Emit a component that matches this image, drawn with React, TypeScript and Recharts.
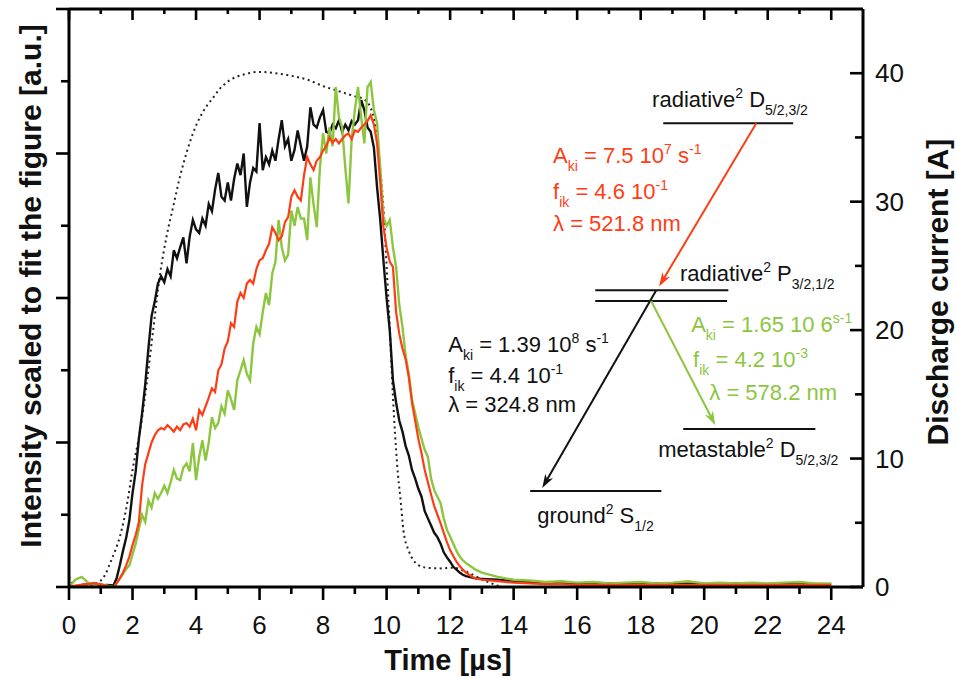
import React from "react";
import { LineChart, Line, XAxis, YAxis, ReferenceLine, ReferenceDot, Customized } from "recharts";

const FONT = '"Liberation Sans", Arial, Helvetica, sans-serif';
const INK = "#111111";
const RED = "#ff3d14";
const GREEN = "#8cc63f";

// time axis of the three emission traces [µs]
const timeUs = [
  0, 0.2, 0.4, 0.6, 0.8, 1, 1.2, 1.4,
  1.5, 1.6, 1.7, 1.8, 1.9,
  2, 2.1, 2.2, 2.3, 2.4, 2.5, 2.6, 2.7, 2.8, 2.9,
  3, 3.1, 3.2, 3.3, 3.4, 3.5, 3.6, 3.7, 3.8, 3.9,
  4, 4.1, 4.2, 4.3, 4.4, 4.5, 4.6, 4.7, 4.8, 4.9,
  5, 5.1, 5.2, 5.3, 5.4, 5.5, 5.6, 5.7, 5.8, 5.9,
  6, 6.1, 6.2, 6.3, 6.4, 6.5, 6.6, 6.7, 6.8, 6.9,
  7, 7.1, 7.2, 7.3, 7.4, 7.5, 7.6, 7.7, 7.8, 7.9,
  8, 8.1, 8.2, 8.3, 8.4, 8.5, 8.6, 8.7, 8.8, 8.9,
  9, 9.1, 9.2, 9.3, 9.4, 9.5, 9.6, 9.7, 9.8, 9.9,
  10, 10.1, 10.2, 10.3, 10.4, 10.5, 10.6, 10.7, 10.8, 10.9,
  11, 11.1, 11.2, 11.3, 11.4, 11.5, 11.6, 11.7, 11.8, 11.9,
  12, 12.1, 12.2, 12.3, 12.4, 12.5, 12.6, 12.7, 12.8, 12.9,
  13,
  13.5, 14, 14.5, 15, 15.5, 16, 16.5, 17, 17.5, 18, 18.5,
  19, 19.5, 20, 20.5, 21, 21.5, 22, 22.5, 23, 23.5, 24,
];

// 324.8 nm (black)
const blackLine = [
  0.02, 0.0, 0.03, 0.04, 0.05, 0.02, 0.03, 0.02,
  0.12, 0.3, 0.5, 0.68, 0.92,
  1.3, 1.6, 2.05, 2.4, 2.8, 3.3, 3.75, 3.95, 4.2, 4.3,
  4.22, 4.4, 4.3, 4.66, 4.55, 4.7, 4.84, 4.48, 4.85, 5.08,
  4.95, 4.9, 5.1, 5.0, 5.3, 5.2, 5.5, 5.73, 5.4, 5.35,
  5.6, 5.35, 5.65, 5.86, 5.7, 6.0, 5.26, 5.6, 5.8, 5.75,
  6.42, 5.77, 5.95, 5.85, 6.04, 5.9, 6.2, 6.46, 6.1, 6.2,
  5.9, 6.05, 6.32, 6.1, 5.9, 6.1, 6.64, 6.4, 6.36, 6.5,
  6.6, 6.3, 6.28, 6.4, 6.35, 6.46, 6.3, 6.4, 6.32, 6.45,
  6.4, 6.46, 6.74, 6.6, 6.36, 6.3, 6.08, 5.53, 5.08, 4.52,
  4.0, 3.55, 2.86, 2.55, 2.3, 2.15, 1.95, 1.82, 1.62, 1.5,
  1.36, 1.25, 1.05, 0.95, 0.85, 0.75, 0.69, 0.6, 0.48, 0.41,
  0.35, 0.28, 0.24, 0.2, 0.17, 0.15, 0.14, 0.13, 0.12, 0.12,
  0.11,
  0.1, 0.08, 0.07, 0.06, 0.06, 0.05, 0.06, 0.05, 0.05, 0.04, 0.05,
  0.04, 0.05, 0.04, 0.04, 0.05, 0.04, 0.04, 0.05, 0.04, 0.04, 0.04,
];

// 521.8 nm (red)
const redLine = [
  0.0, 0.02, 0.03, 0.04, 0.05, 0.04, 0.01, 0.0,
  0.05, 0.12, 0.2, 0.3, 0.42,
  0.58, 0.72, 0.9, 1.4, 1.7, 1.85, 2.0, 2.1, 2.17, 2.2,
  2.18, 2.24, 2.2, 2.15, 2.22, 2.17, 2.25, 2.27, 2.22, 2.33,
  2.17, 2.45, 2.38, 2.5, 2.62, 2.75, 2.7, 3.0, 3.08, 3.3,
  3.4, 3.65, 3.6, 3.95, 4.07, 4.0, 4.2, 4.25, 4.2, 4.4,
  4.52, 4.55, 4.66, 4.75, 4.98, 4.9, 4.8, 4.85, 5.05, 5.12,
  5.4, 5.49, 5.4, 5.35, 5.7, 5.95, 5.85, 5.77, 5.9, 5.95,
  6.04, 6.1, 6.22, 6.15, 6.2, 6.14, 6.2, 6.25, 6.28, 6.2,
  6.32, 6.3, 6.36, 6.4, 6.45, 6.53, 6.4, 6.14, 5.6, 4.98,
  4.7, 4.5, 4.43, 3.8, 3.5, 3.3, 3.15, 2.9, 2.55, 2.3,
  2.05, 1.85, 1.62, 1.45, 1.28, 1.12, 1.0, 0.88, 0.75, 0.62,
  0.51, 0.43, 0.35, 0.29, 0.24, 0.2, 0.17, 0.14, 0.12, 0.11,
  0.1,
  0.08, 0.06, 0.05, 0.04, 0.04, 0.03, 0.03, 0.03, 0.03, 0.03, 0.03,
  0.03, 0.03, 0.03, 0.03, 0.03, 0.03, 0.03, 0.03, 0.03, 0.03, 0.03,
];

// 578.2 nm (green)
const greenLine = [
  0.0, 0.1, 0.14, 0.06, 0.03, 0.04, 0.02, 0.0,
  0.05, 0.12, 0.18, 0.25, 0.3,
  0.45, 0.6, 0.8, 1.0, 0.9, 1.2, 1.1, 1.3, 1.22, 1.3,
  1.4, 1.3, 1.45, 1.62, 1.5, 1.48, 1.65, 1.71, 1.6, 1.99,
  1.48, 1.8, 2.03, 1.75, 2.0, 2.35, 2.2, 2.27, 2.5, 2.4,
  2.72, 2.6, 2.45, 2.86, 3.0, 3.14, 2.95, 2.86, 3.37, 3.6,
  3.5, 3.8, 4.07, 3.9, 4.34, 4.5, 5.08, 4.7, 4.52, 4.6,
  5.21, 5.0, 5.26, 5.1, 5.1, 4.8, 5.67, 5.3, 4.98, 5.8,
  6.28, 6.0, 6.36, 6.1, 6.92, 6.5, 6.36, 5.8, 5.31, 6.2,
  6.6, 6.92, 6.5, 6.14, 6.92, 6.99, 6.6, 6.42, 5.8, 5.12,
  5.0, 5.08, 4.7, 4.43, 3.9, 3.6, 3.2, 2.95, 2.6, 2.4,
  2.21, 2.05, 1.9, 1.8, 1.5, 1.34, 1.25, 1.16, 0.95, 0.79,
  0.7, 0.6, 0.5, 0.42, 0.37, 0.33, 0.3, 0.27, 0.24, 0.22,
  0.2,
  0.14, 0.1, 0.09, 0.07, 0.08, 0.06, 0.07, 0.05, 0.06, 0.07, 0.05,
  0.06, 0.08, 0.05, 0.06, 0.05, 0.06, 0.05, 0.06, 0.07, 0.05, 0.05,
];

// discharge current (dotted) [A]
const currentTime = [
  0, 0.1, 0.2, 0.5, 0.8, 1, 1.15, 1.3, 1.45, 1.6, 1.83, 2, 2.24, 2.45, 2.65, 2.87,
  3.08, 3.28, 3.5, 3.7, 3.9, 4.13, 4.35, 4.54, 4.75, 4.97, 5.5, 6, 6.5, 7, 7.5, 8,
  8.5, 9, 9.27, 9.48, 9.6, 9.7, 9.8, 9.9, 10, 10.1, 10.2, 10.33, 10.45, 10.53, 10.7,
  10.84, 11, 11.27, 11.7, 12.1, 12.5, 13, 13.5, 14, 15, 16, 17, 18, 19, 20, 21, 22, 23, 24,
];
const currentA = [
  0.8, 0.3, 0, 0, 0.2, 0.5, 1.0, 1.9, 2.8, 3.9, 6.5, 9.1, 12.2, 15.9, 20, 24.4,
  27.4, 29.6, 32, 33.8, 35.3, 36.6, 37.5, 38.1, 38.8, 39.3, 39.9, 40.1, 40.0, 39.8, 39.5, 39.0,
  38.6, 38.2, 38.0, 37.4, 36.5, 35.0, 32.5, 29.6, 25, 20.2, 14.8, 9.6, 6.5, 4.4, 2.8,
  2.1, 1.7, 1.5, 1.45, 1.5, 1.2, 0.6, 0.1, -0.2, -0.35, -0.45, -0.4, -0.45, -0.4, -0.45, -0.4, -0.45, -0.4, -0.45,
];

const xTicks = [0, 1, 2, 3, 4, 5, 6, 7, 8, 9, 10, 11, 12, 13, 14, 15, 16, 17, 18, 19, 20, 21, 22, 23, 24];
const leftTicks = [0, 1, 2, 3, 4, 5, 6, 7, 8];
const rightTicks = [0, 5, 10, 15, 20, 25, 30, 35, 40];

// term diagram, placed in (time, current) coordinates
const levels = [
  { x1: 18.71, x2: 22.8, y: 36.1 },
  { x1: 16.57, x2: 20.76, y: 23.1 },
  { x1: 16.57, x2: 20.72, y: 22.26 },
  { x1: 19.34, x2: 23.5, y: 12.3 },
  { x1: 14.52, x2: 18.65, y: 7.47 },
];
const transitions = [
  { x1: 21.64, y1: 36.1, x2: 18.58, y2: 23.4, color: RED },
  { x1: 18.49, y1: 23.1, x2: 14.9, y2: 7.7, color: INK },
  { x1: 18.33, y1: 22.26, x2: 20.35, y2: 12.6, color: GREEN },
];

// text pieces: [text, shift] where shift is "" (normal), "^" (superscript) or "_" (subscript)
type Piece = [string, "" | "^" | "_"];
const annotations: { x: number; y: number; color: string; parts: Piece[] }[] = [
  { x: 18.36, y: 37.35, color: INK, parts: [["radiative", ""], ["2", "^"], [" D", ""], ["5/2,3/2", "_"]] },
  { x: 19.24, y: 23.8, color: INK, parts: [["radiative", ""], ["2", "^"], [" P", ""], ["3/2,1/2", "_"]] },
  { x: 18.55, y: 10.1, color: INK, parts: [["metastable", ""], ["2", "^"], [" D", ""], ["5/2,3/2", "_"]] },
  { x: 14.74, y: 4.98, color: INK, parts: [["ground", ""], ["2", "^"], [" S", ""], ["1/2", "_"]] },
  { x: 15.24, y: 33.0, color: RED, parts: [["A", ""], ["ki", "_"], [" = 7.5 10", ""], ["7", "^"], [" s", ""], ["-1", "^"]] },
  { x: 15.24, y: 30.2, color: RED, parts: [["f", ""], ["ik", "_"], [" = 4.6 10", ""], ["-1", "^"]] },
  { x: 15.24, y: 27.7, color: RED, parts: [["λ = 521.8 nm", ""]] },
  { x: 11.94, y: 18.3, color: INK, parts: [["A", ""], ["ki", "_"], [" = 1.39 10", ""], ["8", "^"], [" s", ""], ["-1", "^"]] },
  { x: 11.94, y: 15.9, color: INK, parts: [["f", ""], ["ik", "_"], [" = 4.4 10", ""], ["-1", "^"]] },
  { x: 11.94, y: 13.6, color: INK, parts: [["λ = 324.8 nm", ""]] },
  { x: 19.59, y: 19.84, color: GREEN, parts: [["A", ""], ["ki", "_"], [" = 1.65 10 6", ""], ["s-1", "^"]] },
  { x: 19.65, y: 17.12, color: GREEN, parts: [["f", ""], ["ik", "_"], [" = 4.2 10", ""], ["-3", "^"]] },
  { x: 20.16, y: 14.55, color: GREEN, parts: [["λ = 578.2 nm", ""]] },
];

const rows = timeUs.map((t, i) => ({ t, black: blackLine[i], red: redLine[i], green: greenLine[i] }));
const currentRows = currentTime.map((t, i) => ({ t, current: currentA[i] }));

function richText(parts: Piece[]) {
  let level = 0;
  return parts.map(([txt, kind], i) => {
    const target = kind === "^" ? -9 : kind === "_" ? 8 : 0;
    const dy = target - level;
    level = target;
    return (
      <tspan key={i} dy={dy} fontSize={kind ? 14 : 22}>
        {txt}
      </tspan>
    );
  });
}

const tickText = { fontFamily: FONT, fontSize: 26, fill: "#111" };

function BottomTick({ x, y, payload }: any) {
  const major = payload.value % 2 === 0;
  return (
    <g>
      <line x1={x} y1={y} x2={x} y2={y + (major ? 13 : 7)} stroke="#000" strokeWidth={2.6} />
      {major && <text x={x} y={y + 47} textAnchor="middle" {...tickText}>{payload.value}</text>}
    </g>
  );
}

function TopTick({ x, y, payload }: any) {
  const major = payload.value % 2 === 0;
  return <line x1={x} y1={y} x2={x} y2={y + (major ? 11 : 5)} stroke="#000" strokeWidth={2.6} />;
}

function LeftTick({ x, y, payload }: any) {
  const major = payload.value % 2 === 0;
  return <line x1={x} y1={y} x2={x - (major ? 13 : 8)} y2={y} stroke="#000" strokeWidth={2.6} />;
}

function RightTick({ x, y, payload }: any) {
  const major = payload.value % 10 === 0;
  return (
    <g>
      <line x1={x} y1={y} x2={x - (major ? 13 : 8)} y2={y} stroke="#000" strokeWidth={2.6} />
      {major && <text x={x + 12} y={y + 9} {...tickText}>{payload.value}</text>}
    </g>
  );
}

function arrowShape(color: string) {
  return (p: any) => {
    const { x1, y1, x2, y2 } = p;
    const a = Math.atan2(y2 - y1, x2 - x1);
    const c = Math.cos(a), s = Math.sin(a);
    const L = 14, W = 4.5;
    const bx = x2 - L * c, by = y2 - L * s;
    const nx = x2 - L * 0.7 * c, ny = y2 - L * 0.7 * s;
    const pts = `${x2},${y2} ${bx + W * s},${by - W * c} ${nx},${ny} ${bx - W * s},${by + W * c}`;
    return (
      <g>
        <line x1={x1} y1={y1} x2={nx} y2={ny} stroke={color} strokeWidth={2} />
        <polygon points={pts} fill={color} />
      </g>
    );
  };
}

function Titles() {
  const title = { fontFamily: FONT, fontWeight: 700, fill: "#111" };
  return (
    <g>
      <text x={448} y={670} textAnchor="middle" fontSize={29} {...title}>Time [µs]</text>
      <text transform="translate(41,286) rotate(-90)" textAnchor="middle" fontSize={30} {...title}>
        Intensity scaled to fit the figure [a.u.]
      </text>
      <text transform="translate(948,292) rotate(-90)" textAnchor="middle" fontSize={30} {...title}>
        Discharge current [A]
      </text>
    </g>
  );
}

export default function App() {
  const axisLine = { stroke: "#000", strokeWidth: 3 };
  return (
    <div style={{ position: "absolute", left: 0, top: 0, width: 957, height: 679, background: "#fff" }}>
      <LineChart width={957} height={679} data={rows} margin={{ top: 8, right: 0, bottom: 0, left: 0 }}>
        <XAxis
          xAxisId="t"
          dataKey="t"
          type="number"
          domain={[0, 25]}
          allowDataOverflow
          ticks={xTicks}
          interval={0}
          height={92}
          tickSize={0}
          tickMargin={0}
          tickLine={false}
          axisLine={axisLine}
          tick={BottomTick}
        />
        <XAxis
          xAxisId="top"
          orientation="top"
          dataKey="t"
          type="number"
          domain={[0, 25]}
          allowDataOverflow
          ticks={xTicks}
          interval={0}
          height={1}
          tickSize={0}
          tickMargin={0}
          tickLine={false}
          axisLine={axisLine}
          tick={TopTick}
        />
        <YAxis
          yAxisId="int"
          type="number"
          domain={[0, 8]}
          allowDataOverflow
          ticks={leftTicks}
          interval={0}
          width={69}
          tickSize={0}
          tickMargin={0}
          tickLine={false}
          axisLine={axisLine}
          tick={LeftTick}
        />
        <YAxis
          yAxisId="cur"
          orientation="right"
          type="number"
          domain={[0, 45]}
          allowDataOverflow
          ticks={rightTicks}
          interval={0}
          width={94}
          tickSize={0}
          tickMargin={0}
          tickLine={false}
          axisLine={axisLine}
          tick={RightTick}
        />

        <Line
          data={currentRows}
          xAxisId="t"
          yAxisId="cur"
          dataKey="current"
          type="monotone"
          stroke="#222"
          strokeWidth={2}
          strokeDasharray="2 3.5"
          dot={false}
          isAnimationActive={false}
        />
        <Line xAxisId="t" yAxisId="int" dataKey="black" type="linear" stroke={INK} strokeWidth={2.4} dot={false} isAnimationActive={false} />
        <Line xAxisId="t" yAxisId="int" dataKey="green" type="linear" stroke={GREEN} strokeWidth={2.4} dot={false} isAnimationActive={false} />
        <Line xAxisId="t" yAxisId="int" dataKey="red" type="linear" stroke={RED} strokeWidth={2.2} dot={false} isAnimationActive={false} />

        {levels.map((l, i) => (
          <ReferenceLine
            key={`lv${i}`}
            xAxisId="t"
            yAxisId="cur"
            segment={[{ x: l.x1, y: l.y }, { x: l.x2, y: l.y }]}
            stroke={INK}
            strokeWidth={2}
          />
        ))}
        {transitions.map((a, i) => (
          <ReferenceLine
            key={`tr${i}`}
            xAxisId="t"
            yAxisId="cur"
            segment={[{ x: a.x1, y: a.y1 }, { x: a.x2, y: a.y2 }]}
            shape={arrowShape(a.color)}
          />
        ))}
        {annotations.map((a, i) => (
          <ReferenceDot
            key={`an${i}`}
            xAxisId="t"
            yAxisId="cur"
            x={a.x}
            y={a.y}
            r={0}
            ifOverflow="visible"
            shape={(p: any) => (
              <text x={p.cx} y={p.cy} fill={a.color} fontFamily={FONT} fontSize={22}>
                {richText(a.parts)}
              </text>
            )}
          />
        ))}
        <Customized component={<Titles />} />
      </LineChart>
    </div>
  );
}
